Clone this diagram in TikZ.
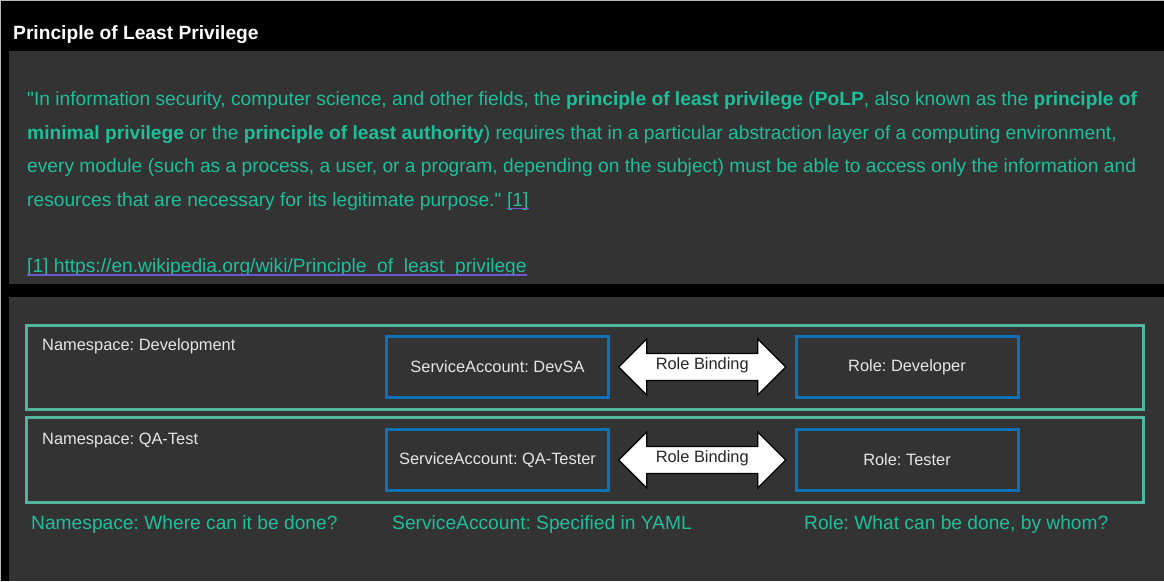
\documentclass[tikz,border=0pt]{standalone}
\usepackage{fontspec}
\setmainfont{Liberation Sans}[Ligatures=TeXOff]
\frenchspacing
\usetikzlibrary{calc}

\definecolor{panelgrey}{HTML}{333333}
\definecolor{quoteteal}{HTML}{1DBF9B}
\definecolor{nsteal}{HTML}{52B5A0}
\definecolor{sablue}{HTML}{0F72B9}
\definecolor{boxtext}{HTML}{E6E6E6}
\definecolor{linkline}{HTML}{6A5ACD}

\tikzset{
  quote/.style={anchor=base west,inner sep=0pt,text=quoteteal,font=\fontsize{19.2}{23}\selectfont},
  nslabel/.style={anchor=base west,inner sep=0pt,text=boxtext,font=\fontsize{16.4}{20}\selectfont},
  nsbox/.style={draw=nsteal,line width=3pt,minimum width=1117pt,minimum height=84pt,inner sep=0pt},
  acctbox/.style={draw=sablue,line width=3pt,minimum width=222pt,minimum height=61pt,inner sep=0pt,text=boxtext,font=\fontsize{16.4}{20}\selectfont},
  bindarrow/.style={draw=black,fill=white,line width=1.2pt,line join=miter},
  bindtext/.style={inner sep=0pt,text=black!85,font=\fontsize{16.4}{20}\selectfont},
}

\begin{document}
\begin{tikzpicture}[x=1pt,y=-1pt]

\useasboundingbox[fill=black] (0,0) rectangle (1164,581);
\draw[gray!55,line width=1pt] (0.5,581) -- (0.5,0.5) -- (1164,0.5);

% quote panel
\node[anchor=base west,inner sep=0pt,text=white,font=\bfseries\fontsize{19.2}{23}\selectfont] (title) at (13,39) {Principle of Least Privilege};
\fill[panelgrey] (9,51) rectangle (1164,284);
\node[quote] (q1) at (27,105) {"In information security, computer science, and other fields, the \textbf{principle of least privilege} (\textbf{PoLP}, also known as the \textbf{principle of}};
\node[quote] (q2) at (27,139) {\textbf{minimal privilege} or the \textbf{principle of least authority}) requires that in a particular abstraction layer of a computing environment,};
\node[quote] (q3) at (27,172.5) {every module (such as a process, a user, or a program, depending on the subject) must be able to access only the information and};
\node[quote] (q4) at (27,206) {resources that are necessary for its legitimate purpose."};
\node[quote] (refmark) at ([xshift=5.3pt]q4.base east) {[1]};
\draw[linkline,line width=1.2pt] ([yshift=-2.5pt]refmark.base west) -- ([yshift=-2.5pt]refmark.base east);
\node[quote] (wiki) at (27,272.5) {[1] https://en.wikipedia.org/wiki/Principle\_of\_least\_privilege};
\draw[linkline,line width=1.2pt] ([yshift=-2.5pt]wiki.base west) -- ([yshift=-2.5pt]wiki.base east);

% diagram panel
\fill[panelgrey] (9,297) rectangle (1164,581);

\node[nsbox] (devns) at (584.5,367) {};
\node[nslabel] (devnslabel) at (42,350) {Namespace: Development};
\node[acctbox] (devsa) at (497.5,367) {ServiceAccount: DevSA};
\node[acctbox] (devrole) at (907,367) {Role: Developer};
\coordinate (devbind) at ($(devsa.east)!0.5!(devrole.west)$);
\draw[bindarrow] ([xshift=-83.5pt]devbind) -- ++(28,-28) -- ++(0,14.5) -- ++(111,0) -- ++(0,-14.5) -- ++(28,28) -- ++(-28,28) -- ++(0,-14.5) -- ++(-111,0) -- ++(0,14.5) -- cycle;
\node[bindtext] (devbindlabel) at ([yshift=1.5pt]devbind) {Role Binding};

\node[nsbox,minimum height=85pt] (qans) at (584.5,459.5) {};
\node[nslabel] (qanslabel) at (42,444) {Namespace: QA-Test};
\node[acctbox] (qasa) at (497.5,460) {ServiceAccount: QA-Tester};
\node[acctbox] (qarole) at (907,460) {Role: Tester};
\coordinate (qabind) at ($(qasa.east)!0.5!(qarole.west)$);
\draw[bindarrow] ([xshift=-83.5pt]qabind) -- ++(28,-28) -- ++(0,14.5) -- ++(111,0) -- ++(0,-14.5) -- ++(28,28) -- ++(-28,28) -- ++(0,-14.5) -- ++(-111,0) -- ++(0,14.5) -- cycle;
\node[bindtext] (qabindlabel) at ([yshift=1.5pt]qabind) {Role Binding};

\node[quote] (nsnote) at (31,529) {Namespace: Where can it be done?};
\node[quote] (sanote) at (392,529) {ServiceAccount: Specified in YAML};
\node[quote] (rolenote) at (804,529) {Role: What can be done, by whom?};

\end{tikzpicture}
\end{document}
